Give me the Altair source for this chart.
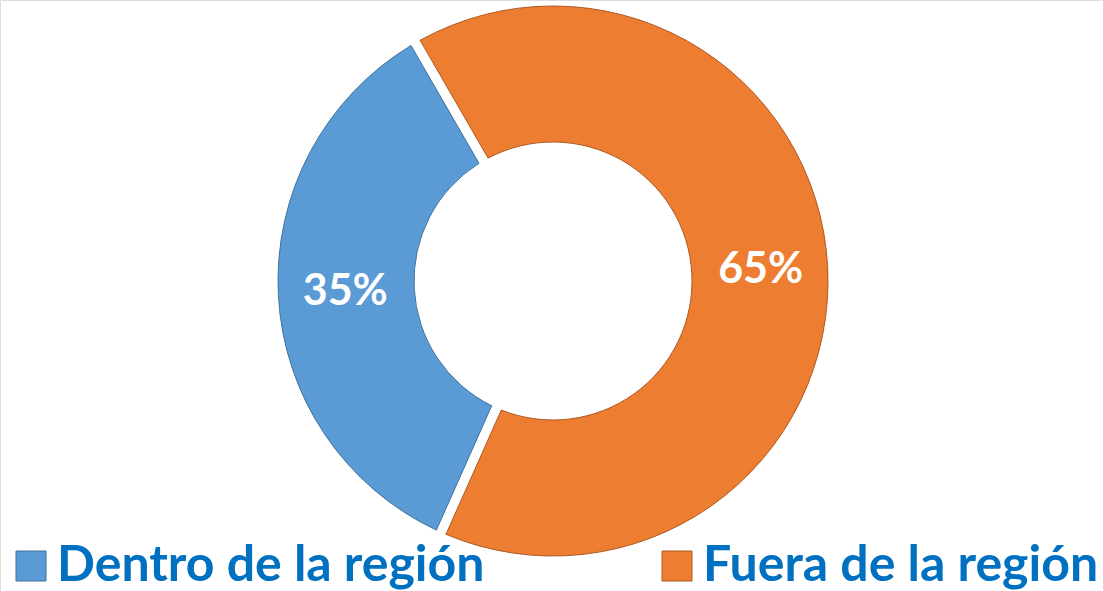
import math
import altair as alt
import pandas as pd

categories = ["Fuera de la región", "Dentro de la región"]
values = [65, 35]
labels = ["65%", "35%"]
stack_order = [0, 1]

legend_domain = ["Dentro de la región", "Fuera de la región"]
fill_colors = ["#5B9BD5", "#ED7D31"]
stroke_colors = ["#41719C", "#AE5A21"]

df = pd.DataFrame({"cat": categories, "val": values, "lab": labels, "ord": stack_order})

CX, CY = 553, 281
start = -math.pi / 6

legend = alt.Legend(
    orient="none", legendX=6, legendY=541, direction="horizontal", title=None,
    symbolType="square", symbolSize=900, symbolStrokeWidth=1,
    labelFont="Lato", labelFontSize=50, labelFontWeight="bold", labelColor="#0070C0",
    labelLimit=1000, labelOffset=1, columnPadding=167, padding=0, rowPadding=0,
)

base = alt.Chart(df).encode(
    theta=alt.Theta("val:Q", stack=True, scale=alt.Scale(range=[start, start + 2 * math.pi])),
    order=alt.Order("ord:Q"),
    x=alt.value(CX),
    y=alt.value(CY),
)

arcs = base.mark_arc(innerRadius=139, outerRadius=275, padAngle=0.034, strokeWidth=1).encode(
    fill=alt.Fill("cat:N", scale=alt.Scale(domain=legend_domain, range=fill_colors), legend=legend),
    stroke=alt.Stroke("cat:N", scale=alt.Scale(domain=legend_domain, range=stroke_colors), legend=legend),
)

text = base.mark_text(radius=208, font="Lato", fontSize=43, fontWeight="bold", color="white",
                      baseline="middle", align="center").encode(text="lab:N")

chart = alt.layer(arcs, text).properties(
    width=1103, height=591, autosize=alt.AutoSizeParams(type="none"), padding=0,
).configure_view(stroke=None).configure(background="white")

chart.save("out.html", embed_options={"renderer": "svg", "actions": False})
